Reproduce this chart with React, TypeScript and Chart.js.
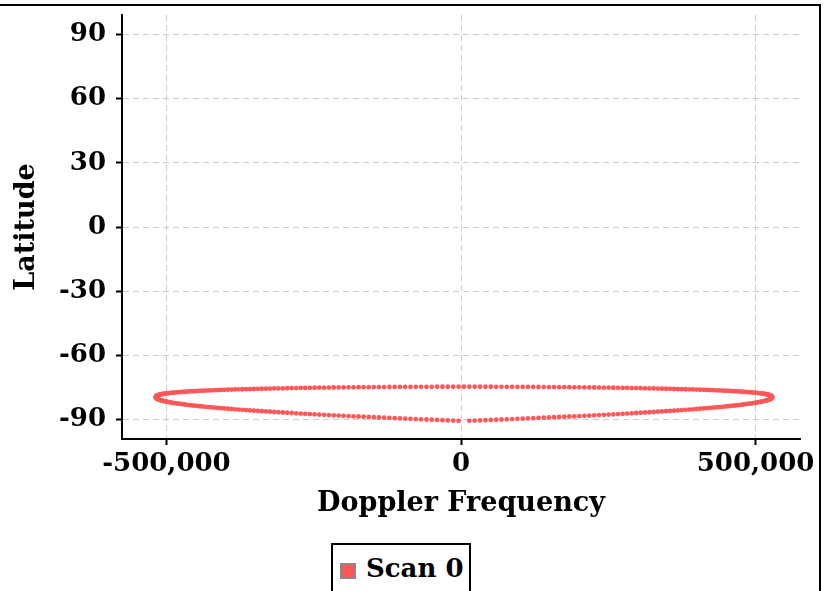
import React, { useEffect, useRef } from "react";
import { Chart, registerables } from "chart.js";

Chart.register(...registerables);

const seriesLabel = "Scan 0";
const xAxisTitle = "Doppler Frequency";
const yAxisTitle = "Latitude";
const xTickValues = [-500000, 0, 500000];
const yTickValues = [-90, -60, -30, 0, 30, 60, 90];

// Doppler frequency (Hz) of each sample, shared by both branches of the track
const dopplerHz = [
  -518000, -517900, -517700, -517300, -516700, -516000, -515100, -514100, -512900, -511600,
  -510100, -508400, -506600, -504600, -502500, -500200, -497700, -495100, -492400, -489500,
  -486500, -483300, -479900, -476400, -472800, -469000, -465100, -461000, -456800, -452400,
  -447900, -443300, -438500, -433600, -428600, -423400, -418100, -412700, -407100, -401500,
  -395600, -389700, -383700, -377500, -371200, -364800, -358300, -351700, -345000, -338100,
  -331200, -324100, -317000, -309800, -302400, -295000, -287500, -279800, -272100, -264400,
  -256500, -248600, -240500, -232400, -224300, -216000, -207700, -199400, -190900, -182400,
  -173900, -165300, -156600, -147900, -139200, -130400, -121500, -112600, -103700, -94800,
  -85800, -76800, -67800, -58700, -49700, -40600, -31500, -22400, -13300, -4100,
  5000,
  14100, 23300, 32400, 41500, 50600, 59700, 68700, 77800, 86800, 95800,
  104800, 113700, 122600, 131500, 140400, 149200, 157900, 166600, 175300, 183900,
  192400, 200900, 209400, 217700, 226000, 234300, 242400, 250500, 258600, 266500,
  274400, 282100, 289800, 297500, 305000, 312400, 319800, 327000, 334100, 341200,
  348100, 355000, 361700, 368300, 374800, 381200, 387500, 393700, 399700, 405600,
  411500, 417100, 422700, 428100, 433400, 438600, 443600, 448500, 453300, 457900,
  462400, 466800, 471000, 475100, 479000, 482800, 486400, 489900, 493300, 496500,
  499500, 502400, 505100, 507700, 510200, 512500, 514600, 516600, 518400, 520100,
  521600, 522900, 524100, 525100, 526000, 526700, 527300, 527700, 527900, 528000,
];

// Latitude of the upper branch
const upperLatitude = [
  -79.50, -79.27, -79.10, -78.96, -78.84, -78.71, -78.60, -78.49, -78.38, -78.28,
  -78.18, -78.09, -77.99, -77.90, -77.81, -77.72, -77.64, -77.55, -77.47, -77.39,
  -77.31, -77.23, -77.15, -77.08, -77.00, -76.93, -76.86, -76.79, -76.72, -76.65,
  -76.59, -76.52, -76.46, -76.39, -76.33, -76.27, -76.21, -76.15, -76.09, -76.04,
  -75.98, -75.93, -75.87, -75.82, -75.77, -75.72, -75.67, -75.63, -75.58, -75.53,
  -75.49, -75.44, -75.40, -75.36, -75.32, -75.28, -75.24, -75.21, -75.17, -75.14,
  -75.10, -75.07, -75.04, -75.01, -74.98, -74.95, -74.92, -74.90, -74.87, -74.85,
  -74.82, -74.80, -74.78, -74.76, -74.74, -74.73, -74.71, -74.69, -74.68, -74.67,
  -74.66, -74.65, -74.64, -74.63, -74.62, -74.61, -74.61, -74.60, -74.60, -74.60,
  -74.60,
  -74.60, -74.60, -74.60, -74.61, -74.61, -74.62, -74.63, -74.64, -74.65, -74.66,
  -74.67, -74.68, -74.69, -74.71, -74.73, -74.74, -74.76, -74.78, -74.80, -74.82,
  -74.85, -74.87, -74.90, -74.92, -74.95, -74.98, -75.01, -75.04, -75.07, -75.10,
  -75.14, -75.17, -75.21, -75.24, -75.28, -75.32, -75.36, -75.40, -75.44, -75.49,
  -75.53, -75.58, -75.63, -75.67, -75.72, -75.77, -75.82, -75.87, -75.93, -75.98,
  -76.04, -76.09, -76.15, -76.21, -76.27, -76.33, -76.39, -76.46, -76.52, -76.59,
  -76.65, -76.72, -76.79, -76.86, -76.93, -77.00, -77.08, -77.15, -77.23, -77.31,
  -77.39, -77.47, -77.55, -77.64, -77.72, -77.81, -77.90, -77.99, -78.09, -78.18,
  -78.28, -78.38, -78.49, -78.60, -78.71, -78.84, -78.96, -79.10, -79.27, -79.50,
];

// Latitude of the lower branch (one sample missing at the middle)
const lowerLatitude = [
  -79.50, -79.64, -79.77, -79.91, -80.05, -80.19, -80.32, -80.46, -80.60, -80.73,
  -80.87, -81.00, -81.14, -81.28, -81.41, -81.55, -81.68, -81.82, -81.96, -82.09,
  -82.23, -82.36, -82.50, -82.63, -82.76, -82.90, -83.03, -83.16, -83.30, -83.43,
  -83.56, -83.70, -83.83, -83.96, -84.09, -84.22, -84.35, -84.48, -84.61, -84.74,
  -84.87, -85.00, -85.13, -85.25, -85.38, -85.51, -85.63, -85.76, -85.89, -86.01,
  -86.13, -86.26, -86.38, -86.50, -86.63, -86.75, -86.87, -86.99, -87.11, -87.23,
  -87.35, -87.47, -87.59, -87.70, -87.82, -87.93, -88.05, -88.16, -88.28, -88.39,
  -88.50, -88.62, -88.73, -88.84, -88.95, -89.06, -89.16, -89.27, -89.38, -89.49,
  -89.59, -89.70, -89.80, -89.90, -90.00, -90.11, -90.21, -90.31, -90.40, -90.50,
  null,
  -90.50, -90.40, -90.31, -90.21, -90.11, -90.00, -89.90, -89.80, -89.70, -89.59,
  -89.49, -89.38, -89.27, -89.16, -89.06, -88.95, -88.84, -88.73, -88.62, -88.50,
  -88.39, -88.28, -88.16, -88.05, -87.93, -87.82, -87.70, -87.59, -87.47, -87.35,
  -87.23, -87.11, -86.99, -86.87, -86.75, -86.63, -86.50, -86.38, -86.26, -86.13,
  -86.01, -85.89, -85.76, -85.63, -85.51, -85.38, -85.25, -85.13, -85.00, -84.87,
  -84.74, -84.61, -84.48, -84.35, -84.22, -84.09, -83.96, -83.83, -83.70, -83.56,
  -83.43, -83.30, -83.16, -83.03, -82.90, -82.76, -82.63, -82.50, -82.36, -82.23,
  -82.09, -81.96, -81.82, -81.68, -81.55, -81.41, -81.28, -81.14, -81.00, -80.87,
  -80.73, -80.60, -80.46, -80.32, -80.19, -80.05, -79.91, -79.77, -79.64, -79.50,
];

const POINT_COLOR = "#ff5757";
const FONT_FAMILY = "'DejaVu Serif', serif";

export default function App() {
  const canvasRef = useRef<HTMLCanvasElement | null>(null);

  useEffect(() => {
    const canvas = canvasRef.current;
    if (!canvas) return;

    const points: { x: number; y: number }[] = [];
    dopplerHz.forEach((x, i) => points.push({ x, y: upperLatitude[i] as number }));
    dopplerHz.forEach((x, i) => {
      const y = lowerLatitude[i];
      if (y !== null) points.push({ x, y: y as number });
    });

    const tickFont = { family: FONT_FAMILY, size: 26, weight: "bold" as const };
    const titleFont = { family: FONT_FAMILY, size: 27, weight: "bold" as const };

    const chart = new Chart(canvas, {
      type: "scatter",
      data: {
        datasets: [
          {
            label: seriesLabel,
            data: points,
            backgroundColor: POINT_COLOR,
            borderColor: POINT_COLOR,
            borderWidth: 0,
            pointRadius: 2.4,
            pointHoverRadius: 2.4,
          },
        ],
      },
      options: {
        animation: false,
        responsive: false,
        devicePixelRatio: 1,
        layout: { padding: { top: 15, left: 0, right: 34, bottom: 71 } },
        plugins: {
          legend: { display: false },
          tooltip: { enabled: false },
        },
        scales: {
          x: {
            type: "linear",
            min: -575500,
            max: 575500,
            afterBuildTicks: (scale: any) => {
              scale.ticks = xTickValues.map((v) => ({ value: v }));
            },
            afterFit: (scale: any) => {
              scale.height = 81;
              scale.paddingLeft = 0;
              scale.paddingRight = 0;
            },
            grid: {
              color: "#cccccc",
              lineWidth: 1,
              tickColor: "#000000",
              tickLength: 6,
              tickWidth: 2,
            },
            border: { display: true, color: "#000000", width: 2, dash: [6, 4] },
            ticks: {
              color: "#000000",
              padding: 4,
              font: tickFont,
              maxRotation: 0,
              autoSkip: false,
              callback: (v: any) => Number(v).toLocaleString("en-US"),
            },
            title: {
              display: true,
              text: xAxisTitle,
              color: "#000000",
              font: titleFont,
              padding: 0,
            },
          },
          y: {
            type: "linear",
            min: -99,
            max: 99,
            afterBuildTicks: (scale: any) => {
              scale.ticks = yTickValues.map((v) => ({ value: v }));
            },
            afterFit: (scale: any) => {
              scale.width = 122;
              scale.paddingTop = 0;
              scale.paddingBottom = 0;
            },
            grid: {
              color: "#cccccc",
              lineWidth: 1,
              tickColor: "#000000",
              tickLength: 6,
              tickWidth: 2,
            },
            border: { display: true, color: "#000000", width: 2, dash: [6, 4] },
            ticks: {
              color: "#000000",
              padding: 10,
              font: tickFont,
              autoSkip: false,
              callback: (v: any) => String(v),
            },
            title: {
              display: true,
              text: yAxisTitle,
              color: "#000000",
              font: titleFont,
              padding: { top: 11, bottom: 0 },
            },
          },
        },
      },
    });

    return () => chart.destroy();
  }, []);

  return (
    <div
      style={{
        position: "fixed",
        left: 0,
        top: 0,
        width: 834,
        height: 591,
        overflow: "hidden",
        background: "#ffffff",
      }}
    >
      <div
        style={{
          position: "absolute",
          left: -20,
          top: 4,
          width: 841,
          height: 700,
          boxSizing: "border-box",
          border: "2px solid #000",
        }}
      />
      <canvas
        ref={canvasRef}
        width={834}
        height={591}
        style={{ position: "absolute", left: 0, top: 0, width: 834, height: 591, display: "block" }}
      />
      <div
        style={{
          position: "absolute",
          left: 331,
          top: 543,
          width: 140,
          height: 80,
          boxSizing: "border-box",
          border: "2px solid #000",
          background: "#ffffff",
        }}
      >
        <span
          style={{
            position: "absolute",
            left: 7,
            top: 18,
            width: 16,
            height: 16,
            boxSizing: "border-box",
            background: POINT_COLOR,
            border: "2px solid #888888",
          }}
        />
        <span
          style={{
            position: "absolute",
            left: 33,
            top: 5,
            fontFamily: FONT_FAMILY,
            fontWeight: "bold",
            fontSize: 26,
            lineHeight: "36px",
            color: "#000",
            whiteSpace: "nowrap",
          }}
        >
          {seriesLabel}
        </span>
      </div>
    </div>
  );
}
